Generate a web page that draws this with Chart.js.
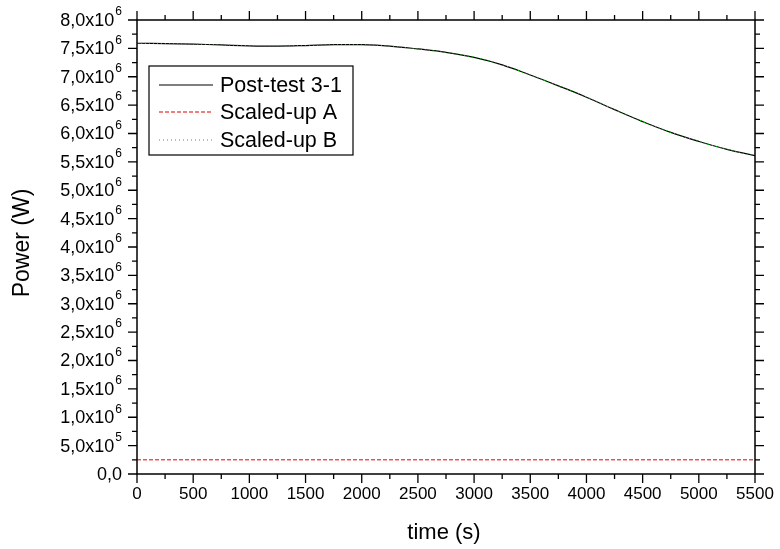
<!DOCTYPE html>
<html>
<head>
<meta charset="utf-8">
<script src="https://cdn.jsdelivr.net/npm/chart.js@4/dist/chart.umd.min.js"></script>
<style>
  html, body { margin: 0; padding: 0; background: #fff; }
  #wrap { width: 780px; height: 549px; position: relative; }
</style>
</head>
<body>
<div id="wrap"><canvas id="c" width="780" height="549"></canvas></div>
<script>
// ---- data ----
const timeS = [0, 250, 500, 750, 1000, 1250, 1500, 1750, 2000, 2250, 2500, 2750,
               3000, 3250, 3500, 3750, 4000, 4250, 4500, 4750, 5000, 5250, 5500];
const postTest31 = [7.59e6, 7.585e6, 7.575e6, 7.56e6, 7.545e6, 7.54e6, 7.55e6, 7.565e6,
                    7.565e6, 7.54e6, 7.49e6, 7.43e6, 7.34e6, 7.21e6, 7.03e6, 6.84e6,
                    6.64e6, 6.42e6, 6.21e6, 6.02e6, 5.86e6, 5.72e6, 5.61e6];
const scaledUpB = [7.59e6, 7.585e6, 7.575e6, 7.56e6, 7.55e6, 7.545e6, 7.55e6, 7.565e6,
                   7.565e6, 7.54e6, 7.49e6, 7.43e6, 7.34e6, 7.21e6, 7.03e6, 6.84e6,
                   6.645e6, 6.42e6, 6.21e6, 6.02e6, 5.86e6, 5.72e6, 5.61e6];
const timeA = [0, 5500];
const scaledUpA = [2.5e5, 2.5e5];
const seriesNames = ['Post-test 3-1', 'Scaled-up A', 'Scaled-up B'];
const xTickValues = [0, 500, 1000, 1500, 2000, 2500, 3000, 3500, 4000, 4500, 5000, 5500];
const yTickValues = [0, 5e5, 1e6, 1.5e6, 2e6, 2.5e6, 3e6, 3.5e6, 4e6, 4.5e6, 5e6,
                     5.5e6, 6e6, 6.5e6, 7e6, 7.5e6, 8e6];
const xTitle = 'time (s)';
const yTitle = 'Power (W)';

const FONT = "'Liberation Sans', Arial, sans-serif";
const NARROW = "'Liberation Sans Narrow', 'Liberation Sans', Arial, sans-serif";

function pts(xs, ys) { return xs.map((x, i) => ({ x: x, y: ys[i] })); }

function fmtY(v) {
  if (v === 0) return { base: '0,0', sup: '' };
  const e = Math.floor(Math.log10(v) + 1e-9);
  const m = v / Math.pow(10, e);
  return { base: m.toFixed(1).replace('.', ',') + 'x10', sup: String(e) };
}

const framePlugin = {
  id: 'frame',
  afterDraw(chart) {
    const ctx = chart.ctx;
    const xs = chart.scales.x, ys = chart.scales.y;
    const a = chart.chartArea;
    ctx.save();
    ctx.strokeStyle = '#000';
    ctx.fillStyle = '#000';
    // frame
    ctx.lineWidth = 1.5;
    ctx.strokeRect(a.left, a.top, a.right - a.left, a.bottom - a.top);
    // x ticks (bottom & top)
    ctx.lineWidth = 1.3;
    for (let t = 0; t <= 5500; t += 250) {
      const px = xs.getPixelForValue(t);
      const len = (t % 500 === 0) ? 9 : 5;
      ctx.beginPath();
      ctx.moveTo(px, a.bottom); ctx.lineTo(px, a.bottom + len);
      ctx.moveTo(px, a.top); ctx.lineTo(px, a.top - len);
      ctx.stroke();
    }
    for (let v = 0; v <= 8e6 + 1; v += 2.5e5) {
      const py = ys.getPixelForValue(v);
      const len = (Math.round(v / 2.5e5) % 2 === 0) ? 9 : 5;
      ctx.beginPath();
      ctx.moveTo(a.left, py); ctx.lineTo(a.left - len, py);
      ctx.moveTo(a.right, py); ctx.lineTo(a.right + len, py);
      ctx.stroke();
    }
    // x tick labels
    ctx.font = '17px ' + NARROW;
    ctx.textAlign = 'center';
    ctx.textBaseline = 'middle';
    xTickValues.forEach(t => {
      ctx.fillText(String(t), xs.getPixelForValue(t), a.bottom + 20);
    });
    // y tick labels
    yTickValues.forEach(v => {
      const py = ys.getPixelForValue(v);
      const f = fmtY(v);
      const right = a.left - 15;
      ctx.textBaseline = 'middle';
      ctx.textAlign = 'right';
      ctx.font = '12px ' + FONT;
      const sw = f.sup ? ctx.measureText(f.sup).width + 1 : 0;
      if (f.sup) {
        ctx.textAlign = 'left';
        ctx.fillText(f.sup, right - sw + 1, py - 8);
      }
      ctx.textAlign = 'right';
      ctx.font = '18px ' + FONT;
      ctx.fillText(f.base, right - sw, py + 1);
    });
    // axis titles
    ctx.font = '22px ' + FONT;
    ctx.textAlign = 'center';
    ctx.textBaseline = 'middle';
    ctx.fillText(xTitle, 444, 533);
    ctx.save();
    ctx.translate(23, 243);
    ctx.rotate(-Math.PI / 2);
    ctx.font = '23px ' + FONT;
    ctx.fillText(yTitle, 0, 0);
    ctx.restore();
    // legend
    const lx = 149, ly = 66, lw = 204, lh = 89;
    ctx.fillStyle = '#fff';
    ctx.fillRect(lx, ly, lw, lh);
    ctx.lineWidth = 1.2;
    ctx.strokeStyle = '#000';
    ctx.strokeRect(lx, ly, lw, lh);
    const rows = [85, 112, 140];
    chart.data.datasets.forEach((ds, i) => {
      const y = rows[i];
      ctx.save();
      ctx.strokeStyle = ds.borderColor;
      ctx.lineWidth = ds.borderWidth;
      ctx.setLineDash(ds.borderDash || []);
      ctx.beginPath();
      ctx.moveTo(159, y); ctx.lineTo(213, y);
      ctx.stroke();
      ctx.restore();
      ctx.fillStyle = '#000';
      ctx.font = '21.5px ' + FONT;
      ctx.textAlign = 'left';
      ctx.textBaseline = 'middle';
      ctx.fillText(ds.label, 220, y + 1);
    });
    ctx.restore();
  }
};

new Chart(document.getElementById('c'), {
  type: 'line',
  data: {
    datasets: [
      { label: seriesNames[0], data: pts(timeS, postTest31), borderColor: '#000',
        borderWidth: 1.2, pointRadius: 0, tension: 0.4, order: 3 },
      { label: seriesNames[1], data: pts(timeA, scaledUpA), borderColor: '#e00000',
        borderWidth: 1, borderDash: [4, 2], pointRadius: 0, order: 2 },
      { label: seriesNames[2], data: pts(timeS, scaledUpB), borderColor: '#00d000',
        borderWidth: 1, borderDash: [1, 3], pointRadius: 0, tension: 0.4, order: 1 }
    ]
  },
  options: {
    responsive: false,
    animation: false,
    devicePixelRatio: 1,
    layout: { padding: { left: 137, right: 25, top: 20, bottom: 75 } },
    plugins: { legend: { display: false }, tooltip: { enabled: false } },
    scales: {
      x: { type: 'linear', min: 0, max: 5500, display: false },
      y: { type: 'linear', min: 0, max: 8e6, display: false }
    }
  },
  plugins: [framePlugin]
});
</script>
</body>
</html>
